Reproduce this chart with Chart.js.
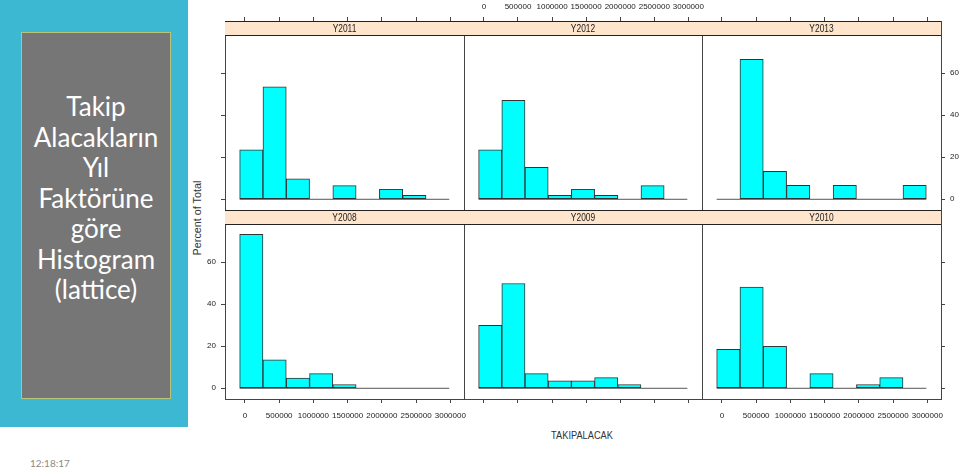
<!DOCTYPE html>
<html>
<head>
<meta charset="utf-8">
<script src="https://cdn.jsdelivr.net/npm/chart.js@4.4.1/dist/chart.umd.min.js"></script>
<style>
  html, body { margin: 0; padding: 0; background: #fff; }
  body { width: 959px; height: 470px; overflow: hidden; position: relative; font-family: Lato, sans-serif; }
  #side { position: absolute; left: 0; top: 0; width: 188px; height: 427px; background: #3db8d3; }
  #box { position: absolute; left: 21px; top: 32px; width: 150px; height: 367px; background: #767676; border: 1px solid #b8c478; box-sizing: border-box; }
  #title { position: absolute; left: 21px; width: 150px; top: 91px; text-align: center; color: #fff; font-size: 26px; line-height: 30.5px; }
  #clock { position: absolute; left: 30px; top: 457px; font-size: 10px; color: #8a8a8a; }
  .panel { position: absolute; }
  #ylab { position: absolute; left: 197px; top: 218px; transform: translate(-50%, -50%) rotate(-90deg); font: 10.8px "Liberation Sans", Arial, sans-serif; color: #333; white-space: nowrap; }
  #xlab { position: absolute; left: 582px; top: 435px; transform: translate(-50%, -50%) scaleX(0.84); font: 11px "Liberation Sans", Arial, sans-serif; color: #333; white-space: nowrap; }
</style>
</head>
<body>
<div id="side"></div>
<div id="box"></div>
<div id="title">Takip<br>Alacakların<br>Yıl<br>Faktörüne<br>göre<br>Histogram<br>(lattice)</div>
<div id="clock">12:18:17</div>
<div id="ylab">Percent of Total</div>
<div id="xlab">TAKIPALACAK</div>
<script>
// panel order: top row then bottom row
const years = ['Y2011', 'Y2012', 'Y2013', 'Y2008', 'Y2009', 'Y2010'];
const binEdges = [-77800, 262550, 602900, 943250, 1283600, 1623950, 1964300, 2304650, 2645000, 2985350];
const pct2011 = [23.5, 53.5, 9.8, 0, 6.5, 0, 4.8, 1.9, 0];
const pct2012 = [23.5, 47.1, 15.2, 1.9, 4.8, 1.9, 0, 6.5, 0];
const pct2013 = [0, 66.7, 13.3, 6.7, 0, 6.7, 0, 0, 6.7];
const pct2008 = [73.3, 13.6, 4.9, 7.0, 1.8, 0, 0, 0, 0];
const pct2009 = [30.0, 49.9, 7.0, 3.5, 3.5, 5.1, 1.8, 0, 0];
const pct2010 = [18.5, 48.2, 20.0, 0, 7.0, 0, 1.8, 5.1, 0];
const xTicks = [0, 500000, 1000000, 1500000, 2000000, 2500000, 3000000];
const yTicks = [0, 20, 40, 60];

const series = [pct2011, pct2012, pct2013, pct2008, pct2009, pct2010];

// layout
const colLeft = [225, 464, 702], colRight = [464, 702, 941];
const rowTop = [21, 210], rowBottom = [210, 399];
const xMin = -292255, xMax = 3200195;
const yMin = -5.1, yMax = 84.9;
const M = { l: 40, r: 40, t: 30, b: 30 };
const frame = '#444';
const tickFont = { family: '"Liberation Sans", Arial, sans-serif', size: 8 };

const stripPlugin = {
    id: 'strip',
    beforeDatasetsDraw(chart, args, opts) {
        const { ctx, chartArea: a } = chart;
        ctx.save();
        ctx.fillStyle = '#ffe5cc';
        ctx.fillRect(a.left, a.top, a.right - a.left, 14);
        ctx.strokeStyle = '#222';
        ctx.lineWidth = 1;
        ctx.beginPath();
        ctx.moveTo(a.left, a.top + 0.5); ctx.lineTo(a.right, a.top + 0.5);
        ctx.moveTo(a.left, a.top + 14.5); ctx.lineTo(a.right, a.top + 14.5);
        ctx.stroke();
        // lattice strip text looks condensed
        ctx.translate((a.left + a.right) / 2, a.top + 7.5);
        ctx.scale(0.8, 1);
        ctx.fillStyle = '#222';
        ctx.font = '10.5px "Liberation Sans", Arial, sans-serif';
        ctx.textAlign = 'center';
        ctx.textBaseline = 'middle';
        ctx.fillText(opts.label, 0, 0.5);
        ctx.restore();
    }
};

function axis(pos, min, max, ticks, size, showTicks, showLabels, pad) {
    const horiz = pos === 'top' || pos === 'bottom';
    return {
        type: 'linear',
        position: pos,
        min: min,
        max: max,
        offset: false,
        afterBuildTicks: s => { s.ticks = ticks.map(v => ({ value: v })); },
        afterFit: s => { if (horiz) s.height = size; else s.width = size; },
        grid: { display: true, drawOnChartArea: false, drawTicks: showTicks, tickLength: 4, color: frame, offset: false },
        border: { display: true, color: frame, width: 1 },
        ticks: {
            display: showLabels, font: tickFont, color: '#222', padding: pad,
            maxRotation: 0, autoSkip: false,
            callback: v => String(v)
        }
    };
}

function makePanel(i) {
    const r = Math.floor(i / 3), c = i % 3;
    const w = colRight[c] - colLeft[c] + M.l + M.r;
    const h = rowBottom[r] - rowTop[r] + M.t + M.b;
    const wrap = document.createElement('div');
    wrap.className = 'panel';
    wrap.style.left = (colLeft[c] - M.l) + 'px';
    wrap.style.top = (rowTop[r] - M.t) + 'px';
    const canvas = document.createElement('canvas');
    canvas.width = w;
    canvas.height = h;
    wrap.appendChild(canvas);
    document.body.appendChild(wrap);

    const centers = series[i].map((v, k) => (binEdges[k] + binEdges[k + 1]) / 2);

    new Chart(canvas.getContext('2d'), {
        data: {
            datasets: [
                {
                    type: 'bar',
                    data: series[i].map((v, k) => ({ x: centers[k], y: v })),
                    backgroundColor: '#00ffff',
                    borderColor: '#333',
                    borderWidth: 1,
                    borderSkipped: false,
                    barPercentage: 1,
                    categoryPercentage: 1,
                    order: 1
                },
                {
                    type: 'line',
                    data: [{ x: binEdges[0], y: 0 }, { x: binEdges[binEdges.length - 1], y: 0 }],
                    borderColor: '#555',
                    borderWidth: 1,
                    pointRadius: 0,
                    order: 2
                }
            ]
        },
        options: {
            responsive: false,
            animation: false,
            events: [],
            layout: { padding: 0 },
            plugins: { legend: { display: false }, tooltip: { enabled: false }, strip: { label: years[i] } },
            scales: {
                x: axis('bottom', xMin, xMax, xTicks, M.b, r === 1, r === 1 && c !== 1, 8),
                x2: axis('top', xMin, xMax, xTicks, M.t, r === 0, r === 0 && c === 1, 5),
                y: axis('left', yMin, yMax, yTicks, M.l, c === 0, c === 0 && r === 1, 5),
                y2: axis('right', yMin, yMax, yTicks, M.r, c === 2, c === 2 && r === 0, 5)
            }
        },
        plugins: [stripPlugin]
    });
}

for (let i = 0; i < years.length; i++) makePanel(i);
</script>
</body>
</html>
